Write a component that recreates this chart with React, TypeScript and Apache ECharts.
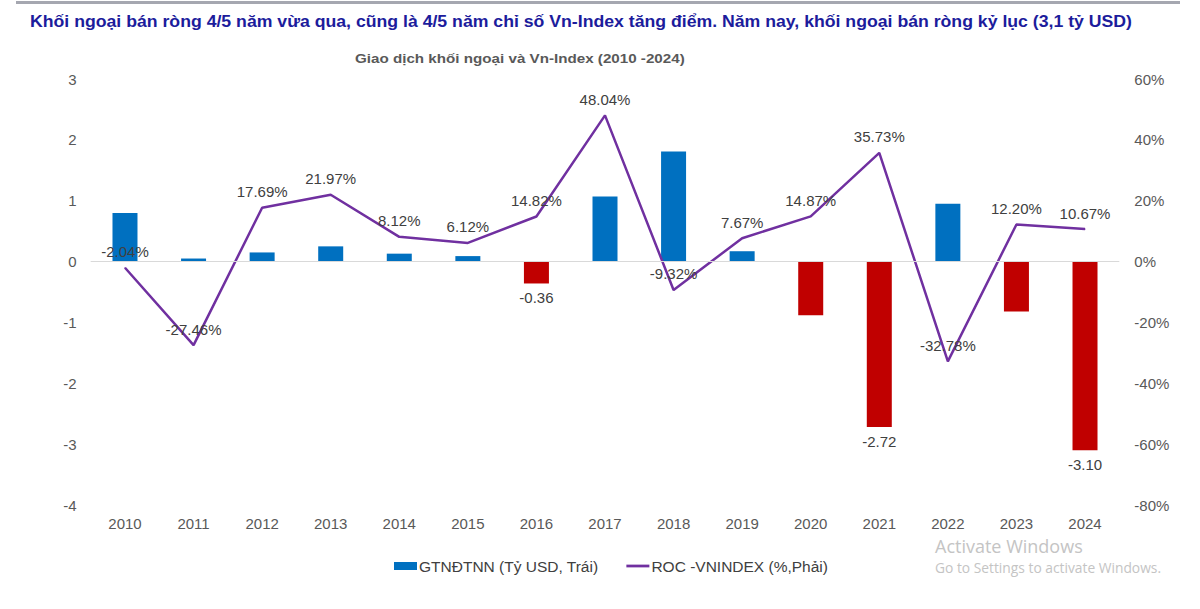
import React, { useEffect, useRef } from "react";
import * as echarts from "echarts";

const years = ["2010","2011","2012","2013","2014","2015","2016","2017","2018","2019","2020","2021","2022","2023","2024"];
const netForeign = [0.8, 0.05, 0.15, 0.25, 0.13, 0.09, -0.36, 1.07, 1.81, 0.17, -0.88, -2.72, 0.95, -0.82, -3.10];
const labeledBars = ["2016", "2021", "2024"];
const rocVnIndex = [-2.04, -27.46, 17.69, 21.97, 8.12, 6.12, 14.82, 48.04, -9.32, 7.67, 14.87, 35.73, -32.78, 12.20, 10.67];

const titleText = "Khối ngoại bán ròng 4/5 năm vừa qua, cũng là 4/5 năm chỉ số Vn-Index tăng điểm. Năm nay, khối ngoại bán ròng kỷ lục (3,1 tỷ USD)";
const subtitleText = "Giao dịch khối ngoại và Vn-Index (2010 -2024)";
const barName = "GTNĐTNN (Tỷ USD, Trái)";
const lineName = "ROC -VNINDEX (%,Phải)";

const FONT = "'Liberation Sans', Arial, sans-serif";

function measure(text: string, font: string): number {
  const c = document.createElement("canvas");
  const ctx = c.getContext("2d");
  if (!ctx) return 1;
  ctx.font = font;
  return ctx.measureText(text).width;
}

export default function App() {
  const ref = useRef<HTMLDivElement>(null);
  useEffect(() => {
    if (!ref.current) return;
    const chart = echarts.init(ref.current, undefined, { renderer: "svg" });
    const titleW = measure(titleText, "bold 17px 'Liberation Sans'");
    const subW = measure(subtitleText, "bold 13px 'Liberation Sans'");
    const titleScale = 1103 / titleW;
    const subScale = 330 / subW;
    chart.setOption({
      animation: false,
      backgroundColor: "#ffffff",
      grid: { left: 90.7, right: 80.7, top: 79, bottom: 104 },
      legend: {
        left: 389,
        top: 553,
        itemGap: 28,
        itemWidth: 23,
        itemHeight: 8,
        textStyle: { color: "#404040", fontSize: 15.5, fontFamily: FONT, padding: [0, 0, 0, -3] },
        data: [
          { name: barName, icon: "rect" },
          { name: lineName, icon: "path://M0,0H25V3H0Z" },
        ],
      },
      graphic: [
        { type: "rect", left: 16, top: 1, shape: { width: 1164, height: 3 }, style: { fill: "#a5a7b0" } },
        {
          type: "text", x: 30, y: 21, scaleX: titleScale,
          style: { text: titleText, font: "bold 17px 'Liberation Sans'", fill: "#1c1c9c", textVerticalAlign: "middle", textAlign: "left" },
        },
        {
          type: "text", x: 355, y: 58, scaleX: subScale,
          style: { text: subtitleText, font: "bold 13px 'Liberation Sans'", fill: "#595959", textVerticalAlign: "middle", textAlign: "left" },
        },
        {
          type: "text", x: 935, y: 546,
          style: { text: "Activate Windows", font: "18px 'Open Sans'", fill: "#c4c4c4", textVerticalAlign: "middle" },
        },
        {
          type: "text", x: 935, y: 567,
          style: { text: "Go to Settings to activate Windows.", font: "13.8px 'Open Sans'", fill: "#c4c4c4", textVerticalAlign: "middle" },
        },
      ],
      xAxis: {
        type: "category",
        data: years,
        axisLine: { show: false },
        axisTick: { show: false },
        axisLabel: { color: "#595959", fontSize: 15, fontFamily: FONT, margin: 11 },
      },
      yAxis: [
        {
          type: "value", min: -4, max: 3, interval: 1,
          splitLine: { show: false },
          axisLine: { show: false },
          axisTick: { show: false },
          axisLabel: { color: "#595959", fontSize: 15, fontFamily: FONT, margin: 14 },
        },
        {
          type: "value", min: -80, max: 60, interval: 20,
          splitLine: { show: false },
          axisLine: { show: false },
          axisTick: { show: false },
          axisLabel: { color: "#595959", fontSize: 15, fontFamily: FONT, margin: 15, formatter: "{value}%" },
        },
      ],
      series: [
        {
          name: barName,
          type: "bar",
          yAxisIndex: 0,
          barWidth: 25,
          itemStyle: { color: "#0070c0" },
          data: netForeign.map((v, i) => ({
            value: v,
            itemStyle: { color: v < 0 ? "#c00000" : "#0070c0" },
            label: {
              show: labeledBars.includes(years[i]),
              position: "bottom",
              distance: 7,
              color: "#404040",
              fontSize: 15,
              fontFamily: FONT,
              formatter: (p: any) => p.value.toFixed(2),
            },
          })),
          markLine: {
            silent: true,
            symbol: "none",
            label: { show: false },
            lineStyle: { color: "#d9d9d9", type: "solid", width: 1 },
            data: [{ yAxis: 0 }],
          },
        },
        {
          name: lineName,
          type: "line",
          yAxisIndex: 1,
          symbol: "circle",
          symbolSize: 1,
          showSymbol: true,
          z: 3,
          lineStyle: { color: "#7030a0", width: 2.5 },
          itemStyle: { color: "#7030a0" },
          data: rocVnIndex,
          label: {
            show: true,
            position: "top",
            distance: 8,
            color: "#404040",
            fontSize: 15,
            fontFamily: FONT,
            formatter: (p: any) => p.value.toFixed(2) + "%",
          },
        },
      ],
    });
    return () => chart.dispose();
  }, []);
  return <div ref={ref} style={{ position: "fixed", left: 0, top: 0, width: 1200, height: 609 }} />;
}
